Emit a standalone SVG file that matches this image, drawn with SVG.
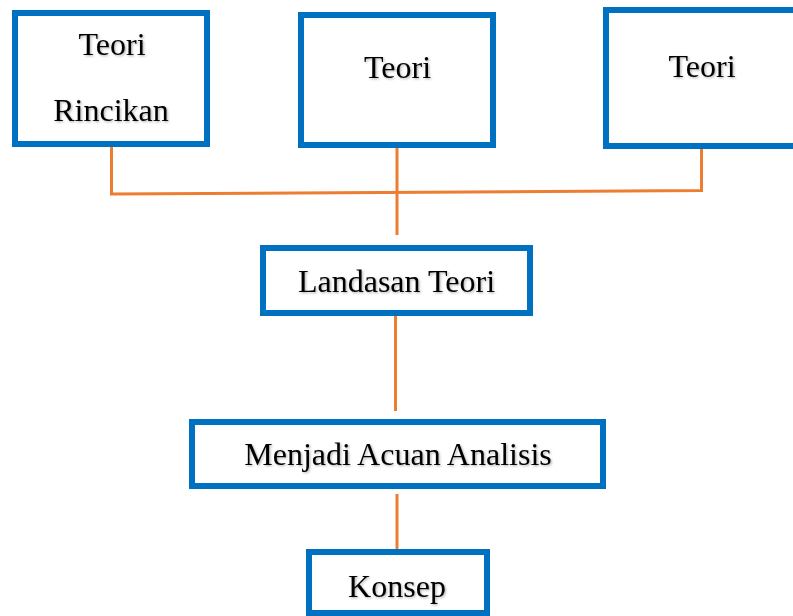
<svg xmlns="http://www.w3.org/2000/svg" width="793" height="616" viewBox="0 0 793 616">
  <style>
    .box { fill: #ffffff; stroke: #0070C0; stroke-width: 6; }
    .lbl { font-family: "Liberation Serif", "Times New Roman", serif; font-size: 32px; fill: #000000; text-anchor: middle; filter: url(#sh); }
    .conn { stroke: #ED7D31; stroke-width: 3; fill: none; stroke-linecap: butt; }
  </style>
  <defs>
    <filter id="sh" x="-10%" y="-20%" width="130%" height="150%">
      <feDropShadow dx="1.2" dy="1.2" stdDeviation="0.8" flood-color="#000000" flood-opacity="0.3"/>
    </filter>
  </defs>
  <rect width="793" height="616" fill="#ffffff"/>

  <g id="connectors">
    <polyline class="conn" points="111.5,142 111.5,194 701.5,190.5 701.5,137"/>
    <line class="conn" x1="397" y1="137" x2="397" y2="235"/>
    <line class="conn" x1="395.5" y1="314" x2="395.5" y2="411"/>
    <line class="conn" x1="397" y1="494" x2="397" y2="551"/>
  </g>

  <g id="node-teori-rincikan">
    <rect class="box" x="15" y="13" width="192" height="131"/>
    <text class="lbl" x="112" y="55">Teori</text>
    <text class="lbl" x="111" y="121">Rincikan</text>
  </g>

  <g id="node-teori-2">
    <rect class="box" x="301" y="15" width="192" height="130"/>
    <text class="lbl" x="397.5" y="78">Teori</text>
  </g>

  <g id="node-teori-3">
    <rect class="box" x="606" y="10" width="200" height="136"/>
    <text class="lbl" x="702" y="77">Teori</text>
  </g>

  <g id="node-landasan">
    <rect class="box" x="263" y="248" width="267" height="65"/>
    <text class="lbl" x="396.5" y="292">Landasan Teori</text>
  </g>

  <g id="node-menjadi">
    <rect class="box" x="192" y="422" width="411" height="64"/>
    <text class="lbl" x="398" y="465">Menjadi Acuan Analisis</text>
  </g>

  <g id="node-konsep">
    <rect class="box" x="309" y="552" width="178" height="61"/>
    <text class="lbl" x="397" y="597">Konsep</text>
  </g>
</svg>
